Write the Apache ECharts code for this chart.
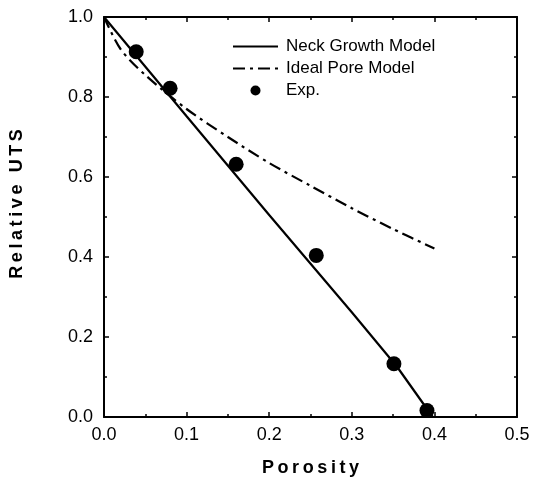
<!DOCTYPE html>
<html>
<head>
<meta charset="utf-8">
<script src="https://cdn.jsdelivr.net/npm/echarts@6/dist/echarts.min.js"></script>
<style>
  html, body { margin: 0; padding: 0; background: #fff; }
  #chart { width: 534px; height: 484px; }
</style>
</head>
<body>
<div id="chart"></div>
<script>
// values
const neckGrowth = [[0, 1.0], [0.1, 0.752], [0.2, 0.505], [0.3, 0.262], [0.355, 0.125], [0.398, 0.0]];
const idealPore = [[0, 1.0], [0.02, 0.92], [0.05, 0.855], [0.1, 0.77], [0.15, 0.70], [0.2, 0.635],
  [0.25, 0.578], [0.3, 0.522], [0.35, 0.47], [0.4, 0.421]];
const expPoints = [[0.039, 0.913], [0.08, 0.822], [0.16, 0.632], [0.257, 0.404], [0.351, 0.133], [0.391, 0.016]];
const xTicks = ["0.0", "0.1", "0.2", "0.3", "0.4", "0.5"];
const yTicks = ["0.0", "0.2", "0.4", "0.6", "0.8", "1.0"];

const chart = echarts.init(document.getElementById("chart"));
const font = '"Liberation Sans", Arial, sans-serif';
const thin = "\u2009";

// fresh objects for every axis
function axisParts() {
  return {
    axisLine: { show: true, onZero: false, lineStyle: { color: "#000", width: 2 } },
    axisTick: { show: true, inside: true, length: 5, lineStyle: { color: "#000", width: 1.5 } },
    minorTick: { show: true, splitNumber: 2, length: 3, lineStyle: { color: "#000", width: 1.5 } },
    splitLine: { show: false },
    minorSplitLine: { show: false }
  };
}

chart.setOption({
  animation: false,
  textStyle: { fontFamily: font },
  grid: { left: 104, right: 17, top: 17, bottom: 67 },
  legend: {
    orient: "vertical",
    left: 232,
    top: 38,
    padding: 0,
    itemWidth: 45,
    itemHeight: 10,
    itemGap: 5,
    textStyle: { fontSize: 17, color: "#000", fontFamily: font, padding: [0, 0, 0, 3] },
    data: [
      { name: "Neck Growth Model", itemStyle: { opacity: 0 } },
      { name: "Ideal Pore Model", itemStyle: { opacity: 0 } },
      { name: "Exp.", icon: "circle" }
    ]
  },
  xAxis: [
    Object.assign({
      type: "value", min: 0, max: 0.5, interval: 0.1, position: "bottom",
      axisLabel: {
        fontSize: 18, color: "#000", margin: 9,
        formatter: (v) => xTicks[Math.round(v * 10)]
      },
      name: "Porosity".split("").join(thin), nameLocation: "middle", nameGap: 42,
      nameTextStyle: { fontSize: 18, fontWeight: "bold", color: "#000" }
    }, axisParts()),
    Object.assign({
      type: "value", min: 0, max: 0.5, interval: 0.1, position: "top",
      axisLabel: { show: false }
    }, axisParts())
  ],
  yAxis: [
    Object.assign({
      type: "value", min: 0, max: 1, interval: 0.2, position: "left",
      axisLabel: {
        fontSize: 18, color: "#000", margin: 11,
        formatter: (v) => yTicks[Math.round(v * 5)]
      },
      name: "Relative UTS".split("").join(thin), nameLocation: "middle", nameGap: 78,
      nameTextStyle: { fontSize: 18, fontWeight: "bold", color: "#000", padding: [0, 0, 0, 26] }
    }, axisParts()),
    Object.assign({
      type: "value", min: 0, max: 1, interval: 0.2, position: "right",
      axisLabel: { show: false }
    }, axisParts())
  ],
  series: [
    {
      name: "Neck Growth Model", type: "line", data: neckGrowth,
      symbol: "none", lineStyle: { color: "#000", width: 2.2 }, itemStyle: { color: "#000" }
    },
    {
      name: "Ideal Pore Model", type: "line", data: idealPore, smooth: 0.3,
      symbol: "none", lineStyle: { color: "#000", width: 2.2, type: [12, 5, 3, 5] },
      itemStyle: { color: "#000" }
    },
    {
      name: "Exp.", type: "scatter", data: expPoints, symbolSize: 15,
      itemStyle: { color: "#000", opacity: 1 }
    },
    // binds the top and right axes so their ticks are drawn
    { type: "line", xAxisIndex: 1, yAxisIndex: 1, data: [], silent: true }
  ]
});
</script>
</body>
</html>
